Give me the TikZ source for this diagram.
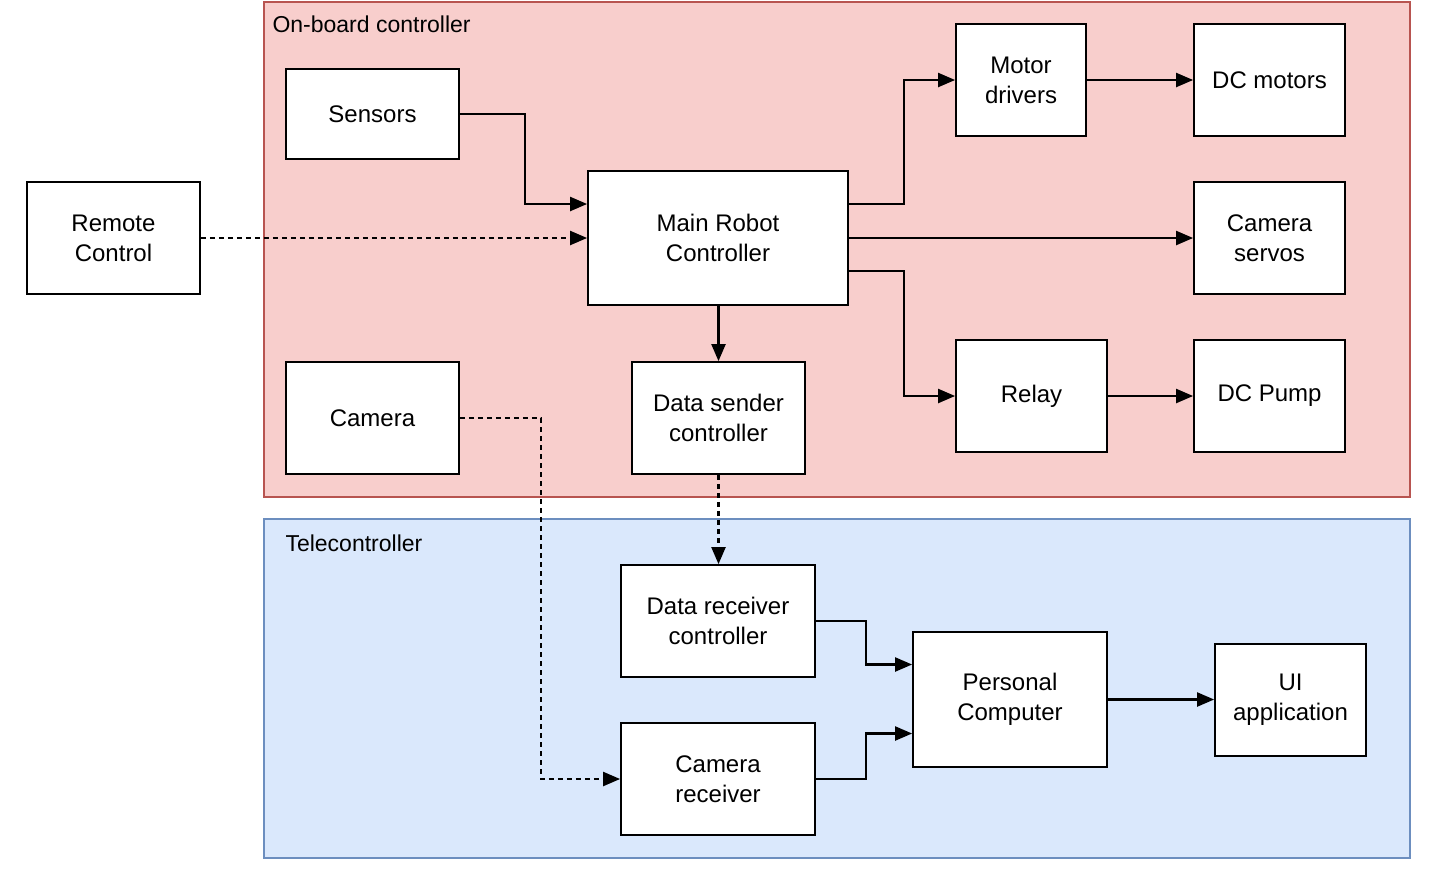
\documentclass[tikz,border=0pt]{standalone}
\usepackage{fontspec}
\setmainfont{Liberation Sans}
\usetikzlibrary{arrows.meta,calc}
\definecolor{redfill}{HTML}{F8CECC}\definecolor{redline}{HTML}{B85450}
\definecolor{bluefill}{HTML}{DAE8FC}\definecolor{blueline}{HTML}{6C8EBF}
\begin{document}
\begin{tikzpicture}[x=1pt,y=-1pt,
 box/.style={draw,fill=white,line width=1.8pt,align=center,font=\fontsize{24}{30}\selectfont,inner sep=0pt},
 ar/.style={line width=2.2pt,-{Triangle[length=17pt,width=14pt]}},
 da/.style={ar,dash pattern=on 5pt off 4pt}]
\useasboundingbox (0,0) rectangle (1437,871);
\fill[white] (0,0) rectangle (1437,871);
\draw[fill=redfill,draw=redline,line width=1.8pt] (264,2) rectangle (1410,497);
\draw[fill=bluefill,draw=blueline,line width=1.8pt] (264,519) rectangle (1410,858);
\node[anchor=west,font=\fontsize{23}{26}\selectfont] (t1) at (269,24) {On-board controller};
\node[anchor=west,font=\fontsize{23}{26}\selectfont] (t2) at (282,543) {Telecontroller};
\newcommand{\bx}[6]{\node[box,minimum width=#4-#2,minimum height=#5-#3] (#1) at ({(#2+#4)/2},{(#3+#5)/2}) {#6};}
\bx{sensors}{286}{69}{459}{159}{Sensors}
\bx{remote}{27}{182}{200}{294}{Remote\\Control}
\bx{main}{588}{171}{848}{305}{Main Robot\\Controller}
\bx{motor}{956}{24}{1086}{136}{Motor\\drivers}
\bx{dcm}{1194}{24}{1345}{136}{DC motors}
\bx{servo}{1194}{182}{1345}{294}{Camera\\servos}
\bx{relay}{956}{340}{1107}{452}{Relay}
\bx{pump}{1194}{340}{1345}{452}{DC Pump}
\bx{camera}{286}{362}{459}{474}{Camera}
\bx{sender}{632}{362}{805}{474}{Data sender\\controller}
\bx{recv}{621}{565}{815}{677}{Data receiver\\controller}
\bx{camrecv}{621}{723}{815}{835}{Camera\\receiver}
\bx{pc}{913}{632}{1107}{767}{Personal\\Computer}
\bx{ui}{1215}{644}{1366}{756}{UI\\application}
\draw[ar] (sensors.east) -- ++(65,0) |- ([yshift=34pt]main.west);
\draw[da] (remote.east) -- (main.west);
\draw[ar] ([yshift=34pt]main.east) -- ++(55,0) |- (motor.west);
\draw[ar] (motor) -- (dcm);
\draw[ar] (main.east) -- (servo.west);
\draw[ar] ([yshift=-33pt]main.east) -- ++(55,0) |- (relay.west);
\draw[ar] (relay) -- (pump);
\draw[ar] (main.south -| sender) -- (sender.north);
\draw[da] (sender.south) -- (sender.south |- recv.north);
\draw[da] (camera.east) -- ++(81,0) |- (camrecv.west);
\draw[ar] (recv.east) -- ++(50,0) |- ([yshift=35pt]pc.west);
\draw[ar] (camrecv.east) -- ++(50,0) |- ([yshift=-34pt]pc.west);
\draw[ar] (pc.east) -- (pc.east -| ui.west);
\end{tikzpicture}
\end{document}
